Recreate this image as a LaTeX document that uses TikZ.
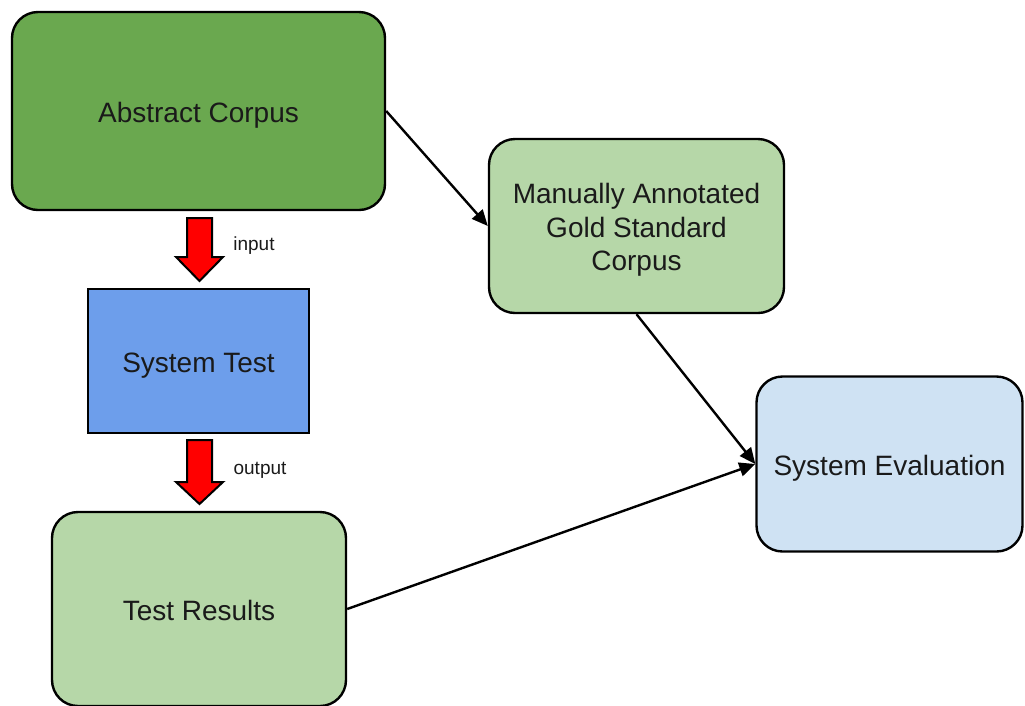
\documentclass[tikz,border=0pt]{standalone}
\usepackage{fontspec}
\setmainfont{Liberation Sans}
\usetikzlibrary{arrows.meta}
\definecolor{darkgreen}{HTML}{6AA84F}
\definecolor{lightgreen}{HTML}{B6D7A8}
\definecolor{boxblue}{HTML}{6D9EEB}
\definecolor{lightblue}{HTML}{CFE2F3}
\definecolor{txt}{HTML}{1A1A1A}
\tikzset{
  box/.style={draw=black, line width=2.4pt, rounded corners=26pt, inner sep=0pt,
    text=txt, align=center, font=\fontsize{28}{33.5}\selectfont},
  onebox/.style={box, text height=28pt, text depth=6pt},
  sqbox/.style={onebox, rounded corners=0pt},
  conn/.style={draw=black, line width=2.4pt, -{Triangle[length=16pt,width=14pt]}},
  bigarrow/.style={draw=black, fill=red, line width=2pt, line join=miter},
  lbl/.style={font=\fontsize{19}{22}\selectfont, text=txt, inner sep=0pt}
}
\begin{document}
\begin{tikzpicture}[x=1pt,y=-1pt]
\useasboundingbox (0,0) rectangle (1025,705);
\node[onebox, fill=darkgreen, minimum width=373pt, minimum height=198pt] (ac) at (198.5,111) {Abstract Corpus};
\node[box, fill=lightgreen, minimum width=295pt, minimum height=174pt] (ma) at (636.5,226) {\rule{0pt}{28pt}Manually Annotated\\Gold Standard\\Corpus};
\node[sqbox, fill=boxblue, minimum width=221pt, minimum height=144pt] (st) at (198.5,361) {System Test};
\node[onebox, fill=lightblue, minimum width=266pt, minimum height=175pt] (se) at (889.5,464) {System Evaluation};
\node[onebox, fill=lightgreen, minimum width=294pt, minimum height=194pt] (tr) at (199,609) {Test Results};
% red block arrows
\draw[bigarrow] (187,218) -- (212,218) -- (212,257) -- (223,257) -- (199.5,281) -- (176,257) -- (187,257) -- cycle;
\draw[bigarrow] (187,440) -- (212,440) -- (212,482) -- (223,482) -- (199.5,504) -- (176,482) -- (187,482) -- cycle;
\node[lbl] (lin) at (254,246) {input};
\node[lbl] (lout) at (260,470) {output};
% connectors
\draw[conn] (ac.east) -- (ma.west);
\draw[conn] (ma.south) -- (se.west);
\draw[conn] (tr.east) -- (se.west);
\end{tikzpicture}
\end{document}
